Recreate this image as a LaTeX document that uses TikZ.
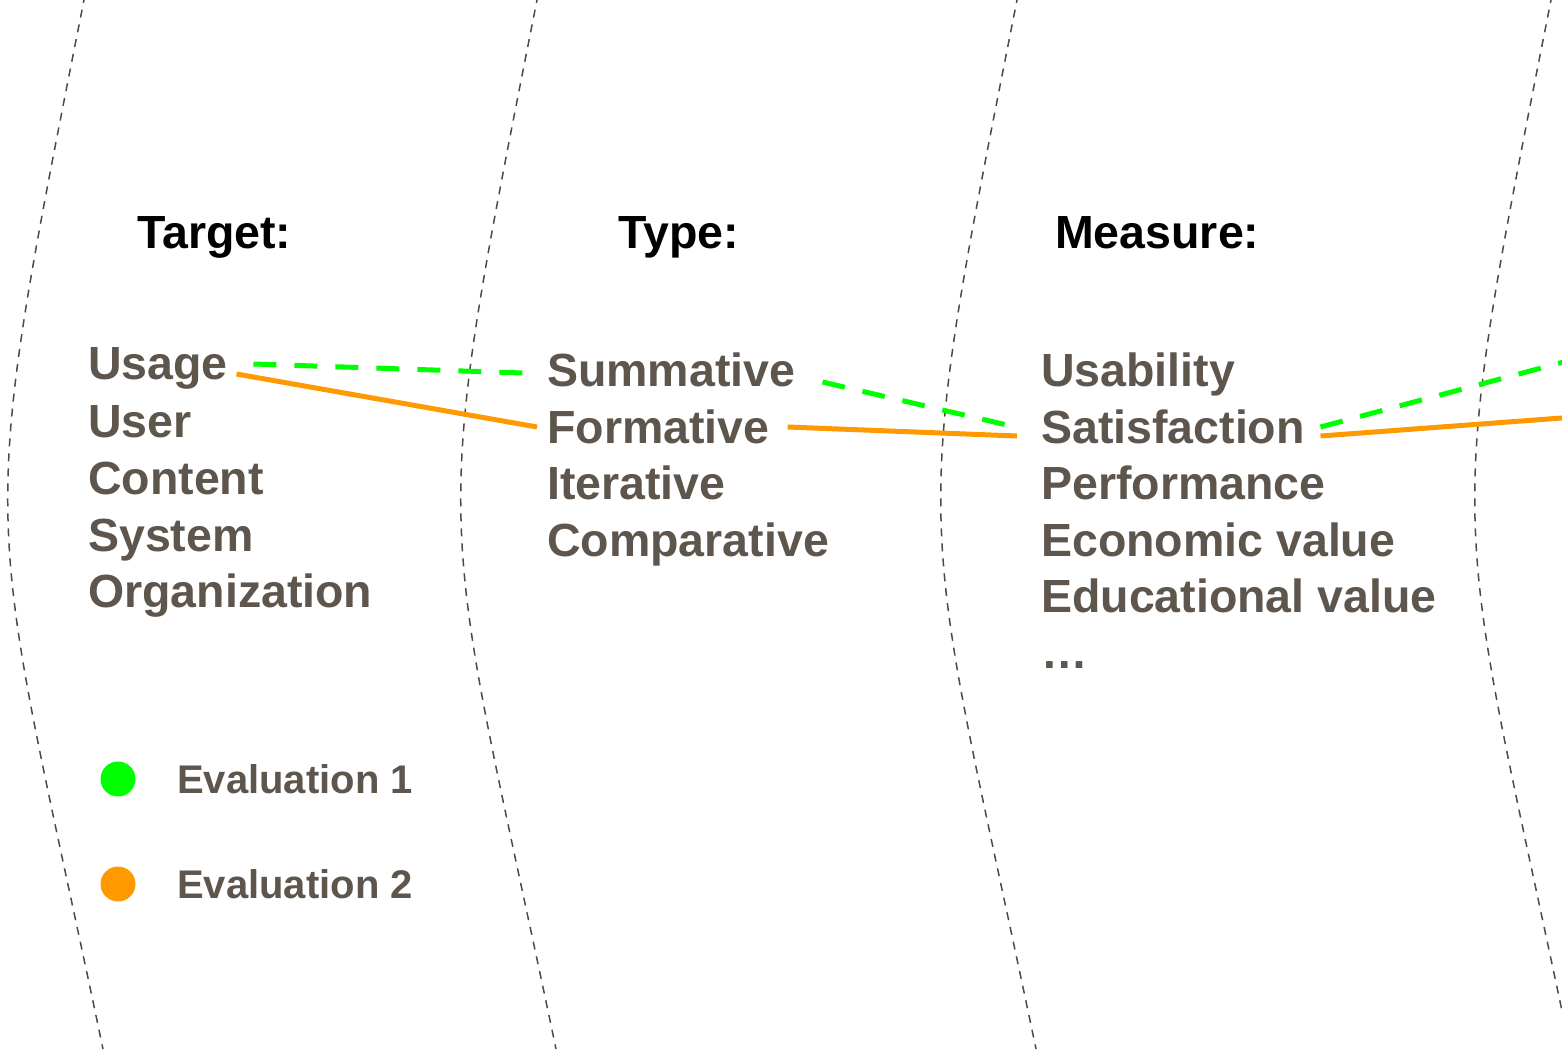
\documentclass[tikz,border=0pt]{standalone}
\usepackage{fontspec}
\setmainfont{Liberation Sans}
\definecolor{txtc}{RGB}{94,85,76}
\definecolor{sepc}{RGB}{80,72,66}
\definecolor{evgreen}{RGB}{0,255,0}
\definecolor{evorange}{RGB}{255,153,0}
\begin{document}
\begin{tikzpicture}[x=1pt,y=-1pt,
  item/.style={anchor=base west, inner sep=0pt, text=txtc, font=\fontsize{46.5}{56}\selectfont\bfseries},
  head/.style={anchor=base west, inner sep=0pt, text=black, font=\fontsize{46.5}{56}\selectfont\bfseries},
  legtext/.style={anchor=base west, inner sep=0pt, text=txtc, font=\fontsize{40}{48}\selectfont\bfseries},
  sepline/.style={draw=sepc, line width=1.5pt, dash pattern=on 8pt off 7pt},
  evalone/.style={draw=evgreen, line width=5pt, dash pattern=on 23pt off 18pt},
  evaltwo/.style={draw=evorange, line width=5pt},
  legdot/.style={circle, inner sep=0pt, minimum size=35pt}
]
\useasboundingbox (0,0) rectangle (1562,1049);
\clip (0,0) rectangle (1562,1049);

% separators
\foreach \dx in {0,453,933,1467}
  \draw[sepline] (85+\dx,-5) .. controls (-27+\dx,559) and (-14+\dx,490) .. (103+\dx,1049);

% headers
\node[head] (htarget) at (137,248) {Target:};
\node[head] (htype) at (618,248) {Type:};
\node[head] (hmeasure) at (1055,248) {Measure:};

% column 1
\node[item] (usage) at (88,379) {Usage};
\node[item] (user) at (88,437) {User};
\node[item] (content) at (88,494) {Content};
\node[item] (system) at (88,551) {System};
\node[item] (org) at (88,607) {Organization};

% column 2
\node[item] (summ) at (547,386) {Summative};
\node[item] (form) at (547,443) {Formative};
\node[item] (iter) at (547,499) {Iterative};
\node[item] (comp) at (547,556) {Comparative};

% column 3
\node[item] (usab) at (1041,386) {Usability};
\node[item] (satis) at (1041,443) {Satisfaction};
\node[item] (perf) at (1041,499) {Performance};
\node[item] (econ) at (1041,556) {Economic value};
\node[item] (educ) at (1041,612) {Educational value};
\node[item] (more) at (1041,668) {…};

% legend
\node[legdot, fill=evgreen] (l1) at (118,779) {};
\node[legdot, fill=evorange] (l2) at (118,884) {};
\node[legtext] (e1) at (177,793) {Evaluation 1};
\node[legtext] (e2) at (177,898) {Evaluation 2};

% free ends
\coordinate (g3) at (1575,359);
\coordinate (o3) at (1575,417);

% evaluation 1
\draw[evalone] ([shift={(25.5,-15)}]usage.base east) -- ([shift={(-24,-13)}]summ.base west);
\draw[evalone] ([shift={(27,-4)}]summ.base east) -- ([shift={(-34,-18)}]satis.base west);
\draw[evalone] ([shift={(15.5,-16)}]satis.base east) -- (g3);

% evaluation 2
\draw[evaltwo] ([shift={(8.5,-5)}]usage.base east) -- ([shift={(-10,-16)}]form.base west);
\draw[evaltwo] ([shift={(18,-16)}]form.base east) -- ([shift={(-24,-7)}]satis.base west);
\draw[evaltwo] ([shift={(15.5,-7)}]satis.base east) -- (o3);
\end{tikzpicture}
\end{document}
